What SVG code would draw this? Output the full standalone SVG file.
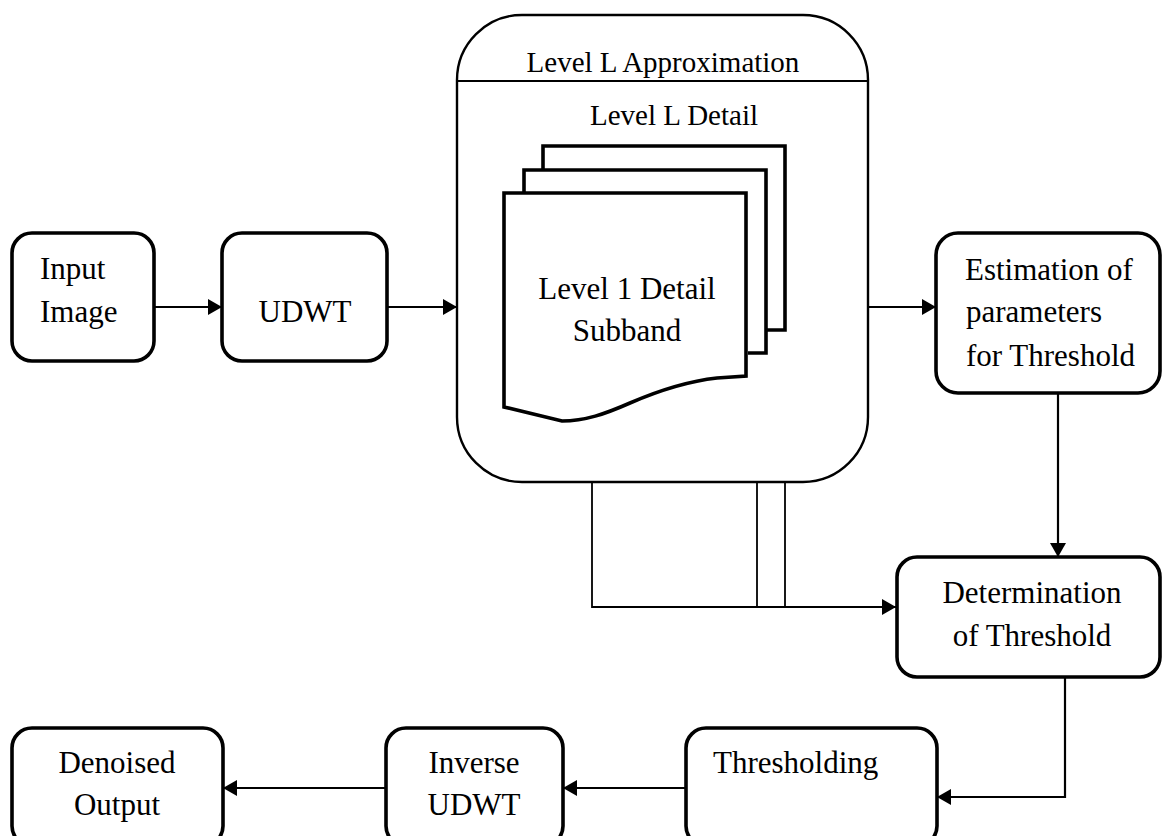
<svg xmlns="http://www.w3.org/2000/svg" width="1162" height="836" viewBox="0 0 1162 836">
<style>
.node{fill:#fff;stroke:#000;stroke-width:3.6}
.big{fill:#fff;stroke:#000;stroke-width:2.4}
.doc{fill:#fff;stroke:#000;stroke-width:3.6}
.t{font-family:"Liberation Serif","Times New Roman",serif;font-size:31px;fill:#000}
.s{font-family:"Liberation Serif","Times New Roman",serif;font-size:29px;fill:#000}
.c{text-anchor:middle}
.con{fill:none;stroke:#000;stroke-width:2.2}
.thin{fill:none;stroke:#000;stroke-width:1.8}
</style>
<defs>
<marker id="ah" markerUnits="userSpaceOnUse" markerWidth="16" markerHeight="17" refX="14" refY="8" orient="auto">
<path d="M0,0 L14,8 L0,16 Z" fill="#000"/>
</marker>
</defs>
<rect width="1162" height="836" fill="#fff"/>

<g id="connectors">
<line class="con" x1="154" y1="307" x2="222" y2="307" marker-end="url(#ah)"/>
<line class="con" x1="387" y1="307" x2="457" y2="307" marker-end="url(#ah)"/>
<line class="con" x1="868" y1="307" x2="936" y2="307" marker-end="url(#ah)"/>
<line class="con" x1="1058" y1="393" x2="1058" y2="557" marker-end="url(#ah)"/>
<polyline class="thin" points="592,482 592,607 896,607" marker-end="url(#ah)"/>
<line class="thin" x1="757" y1="360" x2="757" y2="607"/>
<line class="thin" x1="785" y1="330" x2="785" y2="607"/>
<polyline class="con" points="1065,677 1065,797 937,797" marker-end="url(#ah)"/>
<line class="con" x1="686" y1="788" x2="563" y2="788" marker-end="url(#ah)"/>
<line class="con" x1="386" y1="788" x2="223" y2="788" marker-end="url(#ah)"/>
</g>

<g id="input">
<rect class="node" x="12" y="233" width="142" height="128" rx="20"/>
<text class="t" x="40" y="279">Input</text>
<text class="t" x="40" y="322">Image</text>
</g>

<g id="udwt">
<rect class="node" x="222" y="233" width="165" height="128" rx="20"/>
<text class="t c" x="305" y="322">UDWT</text>
</g>

<g id="subbands">
<rect class="big" x="457" y="15" width="411" height="467" rx="65"/>
<line x1="457" y1="81" x2="868" y2="81" stroke="#000" stroke-width="1.8"/>
<text class="s c" x="663" y="72">Level L Approximation</text>
<text class="s c" x="674" y="125">Level L Detail</text>
<path class="doc" d="M543,170 V146 H785 V330 H766"/>
<path class="doc" d="M524,193 V170 H766 V353 H748"/>
<path class="doc" d="M504,193 H746 V376 L717,378 C690,381 660,390 630,403 C605,414 585,421 562,421 L504,407 Z"/>
<text class="t c" x="627" y="299">Level 1 Detail</text>
<text class="t c" x="627" y="341">Subband</text>
</g>

<g id="estimation">
<rect class="node" x="936" y="233" width="224" height="160" rx="22"/>
<text class="t" x="965" y="280">Estimation of</text>
<text class="t" x="966" y="322">parameters</text>
<text class="t" x="966" y="366">for Threshold</text>
</g>

<g id="determination">
<rect class="node" x="897" y="557" width="263" height="120" rx="20"/>
<text class="t c" x="1032" y="603">Determination</text>
<text class="t c" x="1032" y="646">of Threshold</text>
</g>

<g id="thresholding">
<rect class="node" x="686" y="728" width="251" height="118" rx="20"/>
<text class="t" x="713" y="773">Thresholding</text>
</g>

<g id="inverse">
<rect class="node" x="386" y="728" width="177" height="118" rx="20"/>
<text class="t c" x="474" y="773">Inverse</text>
<text class="t c" x="474" y="815">UDWT</text>
</g>

<g id="denoised">
<rect class="node" x="12" y="728" width="211" height="118" rx="20"/>
<text class="t c" x="117" y="773">Denoised</text>
<text class="t c" x="117" y="815">Output</text>
</g>
</svg>
